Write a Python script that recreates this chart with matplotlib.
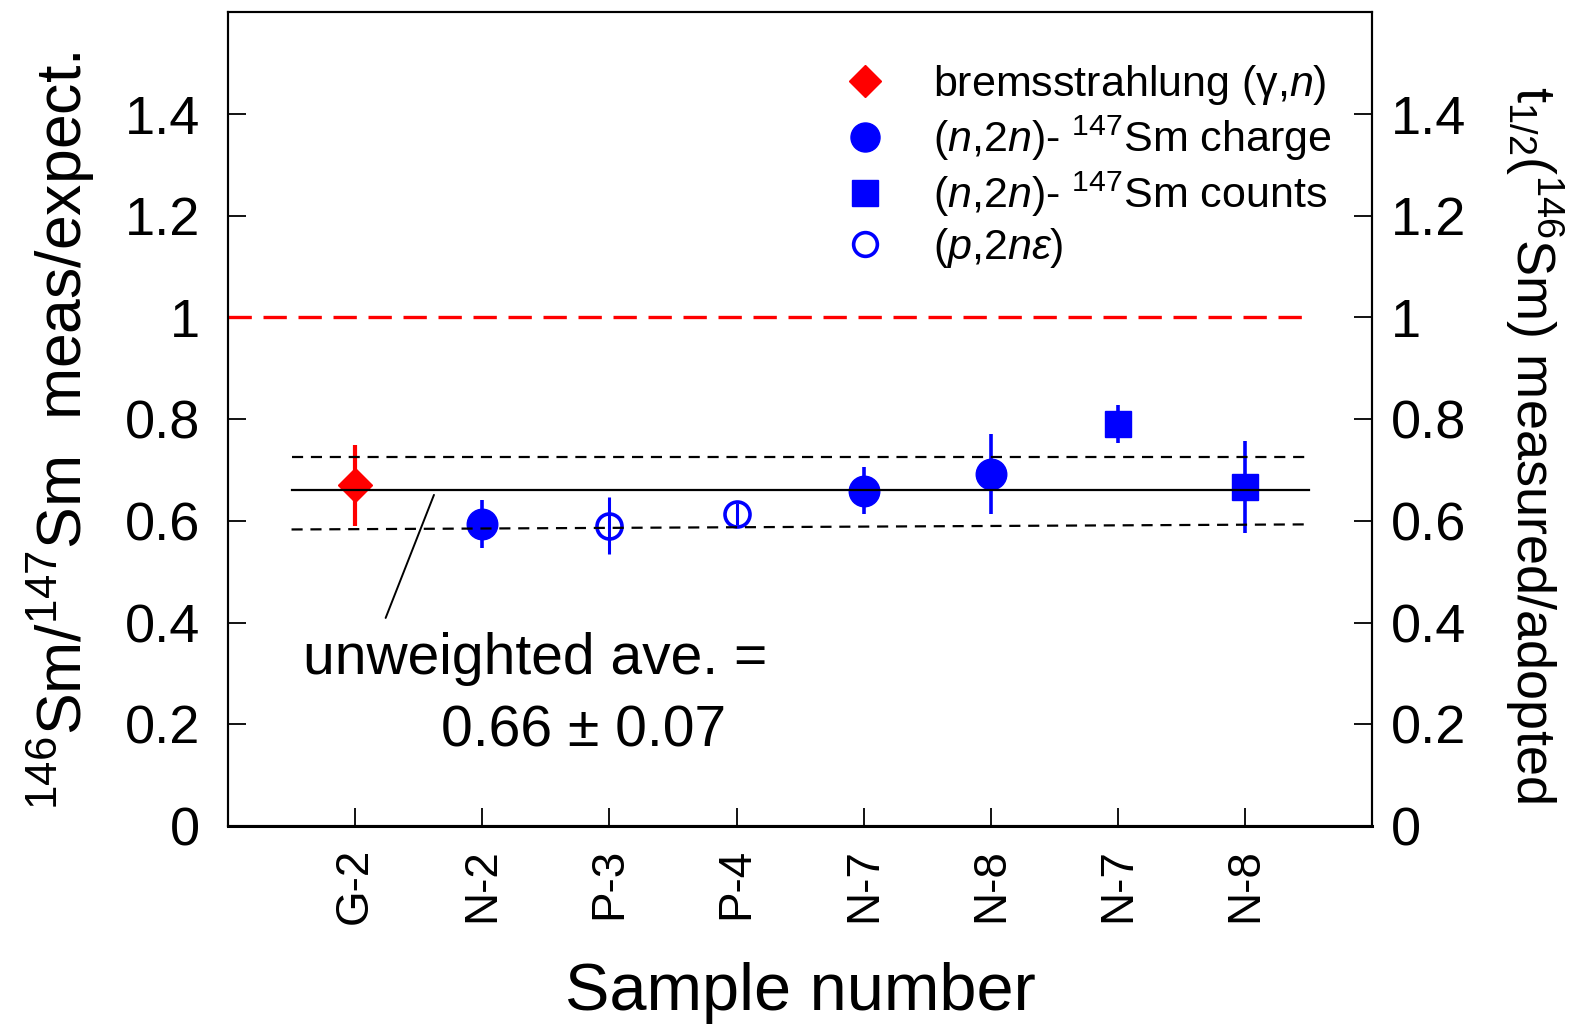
import matplotlib
matplotlib.use("Agg")
import matplotlib.pyplot as plt

plt.rcParams['font.family'] = ['Liberation Sans', 'DejaVu Sans']
plt.rcParams['mathtext.fontset'] = 'custom'
plt.rcParams['mathtext.rm'] = 'Liberation Sans'
plt.rcParams['mathtext.it'] = 'Liberation Sans:italic'
plt.rcParams['mathtext.bf'] = 'Liberation Sans:bold'

# Samples in plotting order
samples = ['G-2', 'N-2', 'P-3', 'P-4', 'N-7', 'N-8', 'N-7', 'N-8']
positions = [1, 2, 3, 4, 5, 6, 7, 8]

# bremsstrahlung (gamma,n)
brems_pos = [1]
brems_val = [0.670]
brems_err = [0.080]

# (n,2n)-147Sm charge
charge_pos = [2, 5, 6]
charge_val = [0.593, 0.659, 0.692]
charge_err = [0.047, 0.046, 0.079]

# (n,2n)-147Sm counts
counts_pos = [7, 8]
counts_val = [0.791, 0.666]
counts_err = [0.037, 0.090]

# (p,2n eps)
p2n_pos = [3, 4]
p2n_val = [0.590, 0.613]
p2n_err = [0.056, 0.022]

# Unweighted average and its band
ave = 0.66
band_upper = [0.725, 0.725]
band_lower = [0.583, 0.593]
band_x = [0.5, 8.5]
expected = 1.0

yticks = [0, 0.2, 0.4, 0.6, 0.8, 1.0, 1.2, 1.4]
ytick_labels = ['0', '0.2', '0.4', '0.6', '0.8', '1', '1.2', '1.4']

RED = '#ff0000'
BLUE = '#0000ff'

fig = plt.figure(figsize=(15.83, 10.26), dpi=100)
ax = fig.add_axes([0.144, 0.195, 0.723, 0.793])

# Reference lines
ax.plot([0, 8.5], [expected, expected], color=RED, lw=2.4, dashes=(7, 3.5), zorder=5)
ax.plot(band_x, [ave, ave], color='black', lw=1.6, zorder=5)
ax.plot(band_x, band_upper, color='black', lw=1.6, dashes=(5, 3.5), zorder=5)
ax.plot(band_x, band_lower, color='black', lw=1.6, dashes=(5, 3.5), zorder=5)

# Error bars
ax.errorbar(brems_pos, brems_val, yerr=brems_err, fmt='none', ecolor=RED, elinewidth=3.0, capsize=0, zorder=3)
ax.errorbar(charge_pos, charge_val, yerr=charge_err, fmt='none', ecolor=BLUE, elinewidth=2.6, capsize=0, zorder=3)
ax.errorbar(counts_pos, counts_val, yerr=counts_err, fmt='none', ecolor=BLUE, elinewidth=2.6, capsize=0, zorder=3)
ax.errorbar(p2n_pos, p2n_val, yerr=p2n_err, fmt='none', ecolor=BLUE, elinewidth=2.2, capsize=0, zorder=3)

# Markers
h1, = ax.plot(brems_pos, brems_val, ls='none', marker='D', ms=17, color=RED, mec=RED, zorder=4,
              label='bremsstrahlung (γ,$n$)')
h2, = ax.plot(charge_pos, charge_val, ls='none', marker='o', ms=22, color=BLUE, mec=BLUE, zorder=4,
              label=r'($n$,2$n$)- $^{\mathrm{147}}$Sm charge')
h3, = ax.plot(counts_pos, counts_val, ls='none', marker='s', ms=19, color=BLUE, mec=BLUE, zorder=4,
              label=r'($n$,2$n$)- $^{\mathrm{147}}$Sm counts')
h4, = ax.plot(p2n_pos, p2n_val, ls='none', marker='o', ms=18, mfc='none', mec=BLUE, mew=2.6, zorder=4,
              label=r'($p$,2$n\varepsilon$)')

ax.legend(handles=[h1, h2, h3, h4], loc='upper left', bbox_to_anchor=(0.538, 0.938),
          frameon=False, fontsize=31, handlelength=1.0, handletextpad=1.08,
          borderpad=0, borderaxespad=0, labelspacing=0.16, markerscale=0.95)

# Annotation for the average
ax.annotate('', xy=(1.62, 0.651), xytext=(1.24, 0.409),
            arrowprops=dict(arrowstyle='-', lw=1.4, color='black', shrinkA=0, shrinkB=0))
ax.text(0.587, 0.328, 'unweighted ave. =', fontsize=41, ha='left', va='center')
ax.text(2.80, 0.186, '0.66 ± 0.07', fontsize=41, ha='center', va='center')

ax.set_xlim(0, 9)
ax.set_ylim(0, 1.6)
ax.set_xticks(positions)
ax.set_xticklabels(samples, rotation=90, fontsize=33)
ax.set_yticks(yticks)
ax.set_yticklabels(ytick_labels, fontsize=39)
ax.tick_params(axis='x', direction='in', length=13, width=1.3, pad=16)
ax.tick_params(axis='y', direction='in', length=13, width=1.3, pad=20)
for s in ax.spines.values():
    s.set_linewidth(1.5)
ax.spines['bottom'].set_linewidth(2.2)

ax2 = ax.twinx()
ax2.set_ylim(0, 1.6)
ax2.set_yticks(yticks)
ax2.set_yticklabels(ytick_labels, fontsize=39)
ax2.tick_params(axis='y', direction='in', length=13, width=1.3, pad=13)
for s in ax2.spines.values():
    s.set_linewidth(1.5)

fig.text(0.5055, 0.0156, 'Sample number', fontsize=48, ha='center', va='baseline')
fig.text(0.039, 0.580, r'$^{\mathrm{146}}$Sm/$^{\mathrm{147}}$Sm  meas/expect.',
         fontsize=45, rotation=90, ha='center', va='center')
fig.text(0.969, 0.567, r't$_{\mathrm{1/2}}$($^{\mathrm{146}}$Sm) measured/adopted',
         fontsize=39, rotation=-90, ha='center', va='center')

fig.savefig('out.png', dpi=100)
